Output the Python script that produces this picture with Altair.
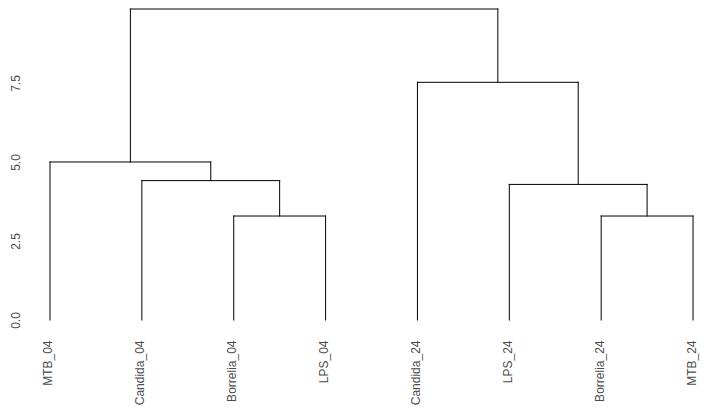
import json
import altair as alt
import pandas as pd

# Leaves in dendrogram order
leaves = ["MTB_04", "Candida_04", "Borrelia_04", "LPS_04",
          "Candida_24", "LPS_24", "Borrelia_24", "MTB_24"]
# hclust-style merges: negative = leaf (1-based position), positive = earlier merge (1-based)
merge_left = [-3, -7, -2, -6, -1, -5, 5]
merge_right = [-4, -8, 1, 2, 3, 4, 6]
merge_height = [3.29, 3.29, 4.41, 4.29, 5.00, 7.52, 9.84]
y_ticks = [0.0, 2.5, 5.0, 7.5]

# build segments from the tree structure
centers, heights, rows = [], [], []


def node(ref):
    if ref < 0:
        return float(-ref), 0.0
    return centers[ref - 1], heights[ref - 1]


for l, r, h in zip(merge_left, merge_right, merge_height):
    xl, hl = node(l)
    xr, hr = node(r)
    rows.append({"x": xl, "x2": xr, "y": h, "y2": h})
    rows.append({"x": xl, "x2": xl, "y": hl, "y2": h})
    rows.append({"x": xr, "x2": xr, "y": hr, "y2": h})
    centers.append((xl + xr) / 2)
    heights.append(h)

df = pd.DataFrame(rows)

label_expr = json.dumps(leaves) + "[round(datum.value) - 1]"

chart = alt.Chart(df).mark_rule(color="black", strokeWidth=1, strokeCap="square").encode(
    x=alt.X("x:Q",
            scale=alt.Scale(domain=[0.8694, 8.054], nice=False, zero=False),
            axis=alt.Axis(title=None, values=list(range(1, len(leaves) + 1)),
                          labelExpr=label_expr, labelAngle=270,
                          labelAlign="right", labelBaseline="middle",
                          labelOffset=-2,
                          ticks=False, tickSize=0, domain=False, grid=False,
                          labelPadding=20, labelFont="Liberation Sans",
                          labelFontSize=12, labelColor="#4D4D4D",
                          labelOverlap=False, labelFlush=False)),
    x2="x2:Q",
    y=alt.Y("y:Q",
            scale=alt.Scale(domain=[0, max(merge_height)], nice=False),
            axis=alt.Axis(title=None, values=y_ticks, format=".1f",
                          labelAngle=270, labelAlign="center",
                          labelBaseline="bottom",
                          ticks=False, tickSize=0, domain=False, grid=False,
                          labelPadding=16, labelFont="Liberation Sans",
                          labelFontSize=12, labelColor="#4D4D4D",
                          labelOverlap=False, labelFlush=False)),
    y2="y2:Q",
).properties(
    width=660,
    height=311,
    autosize=alt.AutoSizeParams(type="none"),
    padding={"left": 30, "top": 1, "right": 2, "bottom": 86},
).configure_view(stroke=None)

chart.save("out.html", embed_options={"renderer": "svg", "actions": False})
